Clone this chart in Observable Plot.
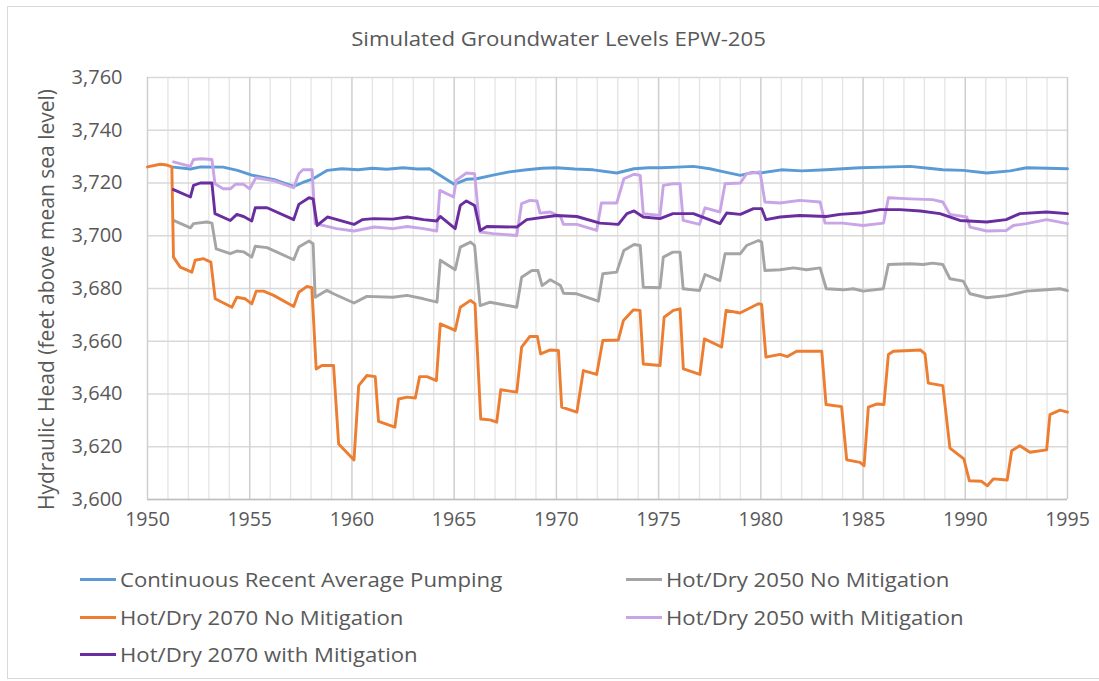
<!DOCTYPE html>
<html>
<head>
<meta charset="utf-8">
<script src="https://cdn.jsdelivr.net/npm/d3@7"></script>
<script src="https://cdn.jsdelivr.net/npm/@observablehq/plot@0.6"></script>
<style>
  html, body { margin: 0; padding: 0; background: #fff; }
  body { width: 1099px; height: 681px; position: relative; overflow: hidden; font-family: "Open Sans", Lato, sans-serif; color: #595959; }
  #frame { position: absolute; left: 7px; top: 6px; width: 1100px; height: 673px; border: 1px solid #d9d9d9; box-sizing: border-box; }
  #title { position: absolute; top: 25px; left: 0; width: 1117px; text-align: center; font-size: 20px; color: #595959; transform: scaleX(1.11); transform-origin: 558px 0; }
  #chart { position: absolute; left: 0; top: 0; }
  .leg { position: absolute; font-size: 20.5px; color: #595959; display: flex; align-items: center; white-space: nowrap; line-height: 1; }
  .leg .txt { display: inline-block; transform: scaleX(1.08); transform-origin: 0 50%; }
  .sw { display: inline-block; width: 36px; height: 3px; margin-right: 4px; }
</style>
</head>
<body>
<div id="frame"></div>
<div id="chart"></div>
<div id="title">Simulated Groundwater Levels EPW-205</div>
<div id="legend"></div>
<script>
// ---- Data (year, feet above mean sea level) ----
const seriesNames = [
  "Continuous Recent Average Pumping",
  "Hot/Dry 2050 No Mitigation",
  "Hot/Dry 2070 No Mitigation",
  "Hot/Dry 2050 with Mitigation",
  "Hot/Dry 2070 with Mitigation"
];
const seriesColors = ["#5b9bd5", "#a5a5a5", "#ed7d31", "#c9a4e6", "#6a2d9f"];

const pumping = [[1951.27,3726.0],[1952.1,3725.3],[1952.6,3726.1],[1953.7,3726.0],[1954.4,3724.8],[1955.1,3723.0],[1956.2,3721.3],[1957.15,3718.7],[1957.6,3720.2],[1958.1,3721.6],[1958.8,3724.8],[1959.5,3725.4],[1960.3,3725.0],[1961.0,3725.6],[1961.7,3725.2],[1962.5,3725.8],[1963.2,3725.3],[1963.8,3725.4],[1965.0,3719.5],[1965.6,3721.4],[1966.1,3721.6],[1966.9,3723.0],[1967.7,3724.2],[1968.55,3725.0],[1969.3,3725.6],[1970.0,3725.8],[1970.9,3725.3],[1971.8,3725.0],[1972.95,3723.8],[1973.8,3725.4],[1974.5,3725.8],[1975.1,3725.8],[1975.9,3726.0],[1976.7,3726.3],[1977.5,3725.4],[1978.2,3724.2],[1979.0,3722.9],[1979.6,3724.0],[1980.0,3723.8],[1981.0,3725.0],[1982.0,3724.6],[1983.2,3725.0],[1984.0,3725.4],[1984.85,3725.8],[1986.0,3726.0],[1987.3,3726.3],[1988.2,3725.6],[1988.9,3725.0],[1989.9,3724.8],[1991.05,3723.8],[1992.2,3724.6],[1993.0,3725.8],[1994.0,3725.6],[1995.0,3725.4]];

const hot2050NoMit = [[1951.27,3705.8],[1952.1,3703.0],[1952.25,3704.6],[1952.9,3705.2],[1953.15,3704.8],[1953.36,3695.0],[1954.05,3693.2],[1954.37,3694.2],[1954.7,3693.9],[1955.1,3691.9],[1955.27,3696.0],[1955.85,3695.5],[1957.15,3690.9],[1957.4,3695.7],[1957.9,3698.0],[1958.1,3697.0],[1958.2,3676.7],[1958.78,3679.3],[1959.1,3678.0],[1960.1,3674.5],[1960.73,3677.0],[1962.0,3676.7],[1962.7,3677.4],[1963.5,3676.1],[1964.16,3674.8],[1964.32,3690.7],[1965.05,3687.1],[1965.3,3695.7],[1965.8,3697.6],[1966.0,3696.3],[1966.27,3673.5],[1966.76,3674.8],[1968.06,3672.9],[1968.3,3684.3],[1968.8,3686.8],[1969.1,3686.8],[1969.3,3681.1],[1969.7,3683.3],[1970.2,3681.1],[1970.35,3678.2],[1971.0,3678.0],[1972.05,3675.2],[1972.27,3685.6],[1972.95,3686.2],[1973.3,3694.4],[1973.8,3696.7],[1974.1,3696.3],[1974.25,3680.5],[1975.07,3680.3],[1975.23,3691.9],[1975.7,3693.8],[1976.05,3693.8],[1976.2,3679.9],[1977.0,3679.2],[1977.27,3685.3],[1978.0,3683.0],[1978.25,3693.2],[1979.0,3693.2],[1979.3,3696.3],[1979.88,3698.2],[1980.04,3697.6],[1980.2,3686.8],[1980.94,3687.1],[1981.6,3687.8],[1982.24,3687.1],[1982.9,3687.8],[1983.2,3679.9],[1984.03,3679.5],[1984.52,3679.9],[1985.0,3679.0],[1985.99,3679.9],[1986.24,3689.1],[1987.3,3689.4],[1987.95,3689.1],[1988.4,3689.6],[1988.9,3689.1],[1989.25,3683.7],[1989.9,3682.8],[1990.23,3678.0],[1991.05,3676.5],[1992.0,3677.3],[1993.0,3679.0],[1993.98,3679.5],[1994.63,3679.9],[1995.0,3679.2]];

const hot2070NoMit = [[1950.0,3726.1],[1950.62,3727.1],[1950.95,3726.8],[1951.19,3726.1],[1951.27,3691.9],[1951.6,3688.1],[1952.17,3686.2],[1952.33,3690.7],[1952.74,3691.3],[1953.1,3690.0],[1953.31,3676.1],[1954.13,3672.9],[1954.37,3676.7],[1954.78,3676.1],[1955.1,3674.2],[1955.32,3679.0],[1955.68,3679.0],[1956.17,3677.4],[1957.15,3673.2],[1957.4,3678.6],[1957.8,3680.8],[1958.04,3680.3],[1958.25,3649.5],[1958.53,3650.8],[1959.1,3650.8],[1959.35,3621.0],[1960.1,3615.0],[1960.33,3643.2],[1960.73,3647.0],[1961.14,3646.6],[1961.3,3629.6],[1962.1,3627.4],[1962.28,3638.1],[1962.7,3638.8],[1963.1,3638.5],[1963.31,3646.6],[1963.67,3646.6],[1964.13,3645.1],[1964.32,3666.6],[1965.05,3664.1],[1965.3,3672.9],[1965.8,3675.5],[1966.02,3674.2],[1966.3,3630.5],[1966.76,3630.2],[1967.08,3629.3],[1967.28,3641.6],[1968.06,3640.7],[1968.3,3657.8],[1968.7,3661.8],[1969.07,3661.8],[1969.23,3655.2],[1969.7,3656.7],[1970.1,3656.5],[1970.26,3635.0],[1971.0,3633.1],[1971.32,3648.9],[1971.97,3647.4],[1972.27,3660.3],[1973.03,3660.5],[1973.28,3667.9],[1973.77,3671.9],[1974.09,3671.7],[1974.25,3651.4],[1975.07,3650.8],[1975.27,3669.1],[1975.72,3671.7],[1976.05,3672.3],[1976.21,3649.5],[1977.02,3647.4],[1977.24,3660.9],[1978.08,3657.8],[1978.3,3671.7],[1978.98,3670.7],[1979.88,3674.2],[1980.04,3674.0],[1980.25,3654.0],[1980.94,3655.0],[1981.3,3654.2],[1981.75,3656.2],[1982.98,3656.2],[1983.19,3636.0],[1983.95,3635.2],[1984.2,3615.0],[1984.85,3614.1],[1985.05,3612.8],[1985.26,3635.0],[1985.66,3636.2],[1986.02,3636.0],[1986.24,3655.0],[1986.48,3656.2],[1987.3,3656.5],[1987.8,3656.7],[1988.03,3655.2],[1988.19,3644.1],[1988.9,3643.2],[1989.25,3619.5],[1989.93,3615.4],[1990.2,3607.1],[1990.8,3606.9],[1991.08,3605.2],[1991.37,3607.8],[1992.05,3607.4],[1992.27,3618.5],[1992.67,3620.4],[1993.16,3617.9],[1993.98,3618.8],[1994.14,3632.2],[1994.63,3633.9],[1995.0,3633.1]];

const hot2050Mit = [[1951.27,3728.0],[1952.1,3726.3],[1952.25,3728.9],[1952.65,3729.2],[1953.15,3728.9],[1953.3,3719.7],[1953.7,3717.8],[1954.05,3717.8],[1954.3,3719.5],[1954.7,3719.5],[1955.0,3717.8],[1955.3,3722.0],[1956.2,3720.8],[1957.15,3718.2],[1957.4,3723.5],[1957.6,3725.0],[1958.05,3725.0],[1958.2,3704.6],[1959.25,3702.7],[1960.1,3701.8],[1961.1,3703.3],[1962.0,3702.7],[1962.7,3703.5],[1963.5,3702.7],[1964.15,3701.8],[1964.3,3717.2],[1964.97,3714.7],[1965.1,3721.0],[1965.6,3723.8],[1966.0,3723.5],[1966.27,3701.4],[1966.9,3700.8],[1968.06,3700.1],[1968.3,3712.2],[1968.7,3713.4],[1969.05,3713.2],[1969.2,3708.6],[1969.7,3709.0],[1970.2,3707.3],[1970.35,3704.3],[1971.0,3704.3],[1971.97,3702.0],[1972.2,3712.4],[1972.95,3712.4],[1973.3,3721.6],[1973.8,3723.3],[1974.1,3722.9],[1974.25,3708.4],[1975.07,3707.7],[1975.23,3719.1],[1975.7,3719.7],[1976.05,3719.7],[1976.2,3705.8],[1977.0,3704.3],[1977.27,3710.6],[1978.0,3709.0],[1978.25,3719.7],[1979.0,3720.0],[1979.3,3723.5],[1979.96,3724.2],[1980.2,3712.8],[1980.94,3712.4],[1981.9,3713.4],[1982.9,3712.8],[1983.14,3704.8],[1984.0,3704.8],[1985.0,3703.9],[1986.0,3704.8],[1986.24,3714.4],[1987.3,3714.0],[1988.4,3713.7],[1988.9,3712.8],[1989.25,3708.1],[1990.07,3707.1],[1990.23,3703.3],[1991.05,3701.8],[1992.0,3702.0],[1992.35,3703.9],[1993.0,3704.6],[1993.98,3706.1],[1995.0,3704.6]];

const hot2070Mit = [[1951.27,3717.5],[1952.1,3714.7],[1952.25,3719.1],[1952.58,3720.0],[1953.15,3720.0],[1953.3,3708.4],[1954.05,3705.8],[1954.37,3708.1],[1954.7,3707.3],[1955.1,3705.6],[1955.27,3710.6],[1955.85,3710.6],[1957.15,3706.1],[1957.4,3711.9],[1957.9,3714.4],[1958.1,3714.0],[1958.3,3703.9],[1958.8,3707.1],[1959.1,3706.5],[1960.1,3704.3],[1960.5,3706.1],[1961.06,3706.5],[1962.0,3706.3],[1962.7,3707.1],[1963.5,3706.1],[1964.15,3705.6],[1964.32,3707.3],[1965.05,3702.7],[1965.3,3711.5],[1965.6,3713.2],[1966.0,3711.5],[1966.27,3702.0],[1966.6,3703.5],[1968.06,3703.3],[1968.55,3706.1],[1970.0,3707.7],[1971.0,3707.3],[1972.13,3704.8],[1973.03,3704.3],[1973.45,3708.4],[1973.8,3709.4],[1974.25,3707.1],[1975.07,3706.5],[1975.7,3708.4],[1976.7,3708.4],[1978.0,3704.6],[1978.33,3708.6],[1979.0,3708.1],[1979.64,3710.3],[1980.04,3710.3],[1980.25,3706.1],[1980.94,3707.1],[1981.9,3707.7],[1983.2,3707.3],[1983.87,3708.1],[1984.85,3708.6],[1985.83,3709.9],[1986.8,3709.9],[1987.8,3709.4],[1988.76,3708.4],[1989.74,3705.8],[1991.05,3705.2],[1992.0,3706.1],[1992.67,3708.4],[1993.98,3709.0],[1995.0,3708.4]];

const yearTicks = [1950, 1955, 1960, 1965, 1970, 1975, 1980, 1985, 1990, 1995];
const levelTicks = [3600, 3620, 3640, 3660, 3680, 3700, 3720, 3740, 3760];
const yLabel = "Hydraulic Head (feet above mean sea level)";

// ---- Build chart ----
const seriesData = [pumping, hot2050NoMit, hot2070NoMit, hot2050Mit, hot2070Mit];
const allYears = d3.range(1950, 1996);
const minorYears = allYears.filter(y => y % 5 !== 0);
const fmt = d3.format(",");

const lineMarks = seriesData.map((data, i) =>
  Plot.line(data, {x: d => d[0], y: d => d[1], stroke: seriesColors[i], strokeWidth: 2.9, strokeLinejoin: "round", strokeLinecap: "round"})
);

const chart = Plot.plot({
  width: 1099,
  height: 545,
  marginLeft: 147,
  marginRight: 32,
  marginTop: 77,
  marginBottom: 46,
  style: {background: "transparent", fontFamily: "'Open Sans', Lato, sans-serif", color: "#595959", overflow: "visible"},
  x: {domain: [1950, 1995]},
  y: {domain: [3600, 3760]},
  marks: [
    Plot.ruleX(minorYears, {stroke: "#e4e4e4", strokeWidth: 1.3}),
    Plot.ruleY(levelTicks, {stroke: "#d9d9d9", strokeWidth: 1.3}),
    Plot.ruleX(yearTicks, {stroke: "#cfcfcf", strokeWidth: 1.5}),
    Plot.ruleY([3600], {stroke: "#bfbfbf", strokeWidth: 1.5}),
    Plot.axisX({ticks: yearTicks, tickFormat: d => String(d), tickSize: 0, tickPadding: 13, fontSize: 19.5, label: null}),
    Plot.axisY({ticks: levelTicks, tickFormat: fmt, tickSize: 0, tickPadding: 25, fontSize: 20, label: null}),
    Plot.text([yLabel], {frameAnchor: "left", textAnchor: "middle", rotate: -90, dx: -100, dy: 11, fontSize: 21, fill: "#595959"}),
    ...lineMarks
  ]
});
document.getElementById("chart").appendChild(chart);

// ---- Legend ----
const legendPos = [
  {left: 80, top: 580}, {left: 626, top: 580},
  {left: 80, top: 618}, {left: 626, top: 618},
  {left: 80, top: 655}
];
const legend = document.getElementById("legend");
seriesNames.forEach((name, i) => {
  const item = document.createElement("div");
  item.className = "leg";
  item.style.left = legendPos[i].left + "px";
  item.style.top = (legendPos[i].top - 11) + "px";
  const sw = document.createElement("span");
  sw.className = "sw";
  sw.style.background = seriesColors[i];
  const t = document.createElement("span");
  t.className = "txt";
  t.textContent = name;
  item.appendChild(sw);
  item.appendChild(t);
  legend.appendChild(item);
});
</script>
</body>
</html>
